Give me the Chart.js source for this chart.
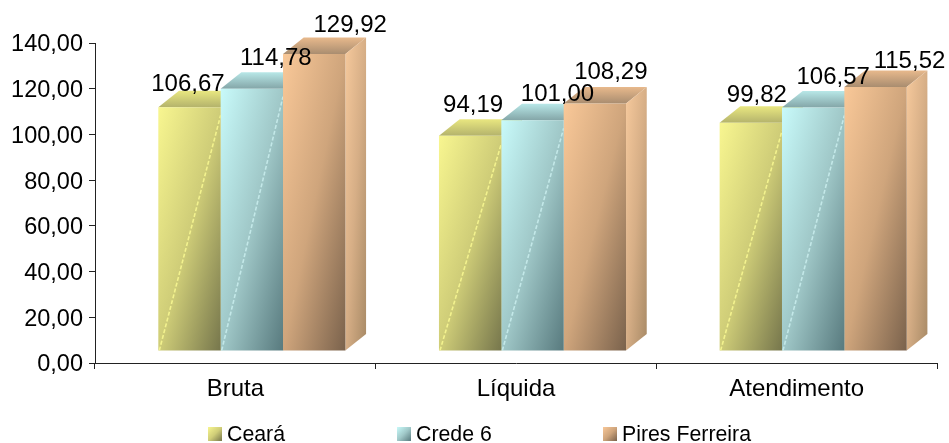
<!DOCTYPE html>
<html>
<head>
<meta charset="utf-8">
<script src="https://cdn.jsdelivr.net/npm/chart.js@4"></script>
<style>
  html, body { margin: 0; padding: 0; background: #fff; }
  #wrap { width: 949px; height: 443px; }
</style>
</head>
<body>
<div id="wrap"><canvas id="chart"></canvas></div>
<script>
// Values
const categories = ['Bruta', 'Líquida', 'Atendimento'];
const seriesNames = ['Ceará', 'Crede 6', 'Pires Ferreira'];
const ceara = [106.67, 94.19, 99.82];
const crede = [114.78, 101.00, 106.57];
const pires = [129.92, 108.29, 115.52];

const fontName = '"Liberation Sans", Arial, sans-serif';
const fmt = v => v.toFixed(2).replace('.', ',');

// The 3D look: front plane sits off the axes, depth goes up and to the right
const shiftX = 16.5, shiftY = -12;
const depthX = 20.7, depthY = 16.5;

// colours per series: bright, mid, dark of the front face
const shades = [
  { hi: '#f8f690', mid: '#cfcd78', lo: '#76764c', topBack: '#e9e780', topFront: '#b4b36c', sideHi: '#e8e684', sideMid: '#cfcd78', sideLo: '#a8a660', streak: 'rgba(255,255,150,0.75)' },
  { hi: '#c8fafa', mid: '#a0c8c8', lo: '#587a7e', topBack: '#b8e8e8', topFront: '#84a6a8', sideHi: '#b8e4e4', sideMid: '#9cc4c4', sideLo: '#7fa0a2', streak: 'rgba(215,250,250,0.65)' },
  { hi: '#f9c898', mid: '#cfa57c', lo: '#7a624c', topBack: '#e8b98c', topFront: '#a98d70', sideHi: '#f6c99c', sideMid: '#d6ae86', sideLo: '#a88a66' }
];

// data labels were moved by hand in the original, so each has its own nudge
const labelNudgeX = [[-1.5, 24, 36], [3, 25, 16], [6, 20, 34]];
const labelNudgeY = [[-16, -24, -22], [-24, -19, -24], [-21, -23, -19]];

// gradient running corner to corner so the other two corners land half way
function cornerGradient(c, x, y, w, h, stops) {
  const k = 2 * w * h / (h * h + w * w);
  const g = c.createLinearGradient(x, y, x + h * k, y + w * k);
  stops.forEach((s, i) => g.addColorStop(i / (stops.length - 1), s));
  return g;
}

function frontFill(context) {
  const chart = context.chart;
  const s = shades[context.datasetIndex];
  const xs = chart.scales.x, ys = chart.scales.y;
  if (!xs || !ys || context.dataIndex === undefined) return s.mid;
  const cat = xs.getPixelForValue(context.dataIndex);
  const w = xs.width / categories.length * 0.6665 / 3;
  const x = cat - 1.5 * w + context.datasetIndex * w;
  const top = ys.getPixelForValue(context.raw);
  const base = ys.getPixelForValue(0);
  if (![x, w, top, base].every(Number.isFinite) || !(base > top)) return s.mid;
  return cornerGradient(chart.ctx, x, top, w, base - top, [s.hi, s.mid, s.lo]);
}

const bar3d = {
  id: 'bar3d',
  beforeDatasetsDraw(chart) {
    const c = chart.ctx;
    c.save();
    c.translate(shiftX, shiftY);
    // tops and right sides go in first, the library's bars cover what is hidden
    chart.data.datasets.forEach((ds, i) => {
      chart.getDatasetMeta(i).data.forEach(el => {
        const s = shades[i];
        const l = el.x - el.width / 2, r = el.x + el.width / 2;
        const g = c.createLinearGradient(0, el.y - depthY, 0, el.y);
        g.addColorStop(0, s.topBack);
        g.addColorStop(1, s.topFront);
        c.fillStyle = g;
        c.beginPath();
        c.moveTo(l, el.y);
        c.lineTo(l + depthX, el.y - depthY);
        c.lineTo(r + depthX, el.y - depthY);
        c.lineTo(r, el.y);
        c.closePath();
        c.fill();

        c.fillStyle = cornerGradient(c, r, el.y - depthY, depthX, el.base - el.y + depthY,
          [s.sideHi, s.sideMid, s.sideLo]);
        c.beginPath();
        c.moveTo(r, el.y);
        c.lineTo(r + depthX, el.y - depthY);
        c.lineTo(r + depthX, el.base - depthY);
        c.lineTo(r, el.base);
        c.closePath();
        c.fill();
      });
    });
    // keep the translate on for the bars
  },
  afterDatasetsDraw(chart) {
    const c = chart.ctx;
    // pale diagonal streak on the yellow and blue faces
    chart.data.datasets.forEach((ds, i) => {
      if (!shades[i].streak) return;
      chart.getDatasetMeta(i).data.forEach(el => {
        const l = el.x - el.width / 2, r = el.x + el.width / 2;
        c.save();
        c.beginPath();
        c.rect(l, el.y, el.width, el.base - el.y);
        c.clip();
        c.strokeStyle = shades[i].streak;
        c.lineWidth = 1.6;
        c.setLineDash([4, 2]);
        c.beginPath();
        c.moveTo(l + 1, el.base);
        c.lineTo(r, el.y + 8);
        c.stroke();
        c.restore();
      });
    });
    c.restore();

    c.save();
    c.fillStyle = '#000';
    c.font = '24px ' + fontName;
    c.textAlign = 'center';
    c.textBaseline = 'alphabetic';
    chart.data.datasets.forEach((ds, i) => {
      chart.getDatasetMeta(i).data.forEach((el, j) => {
        c.fillText(fmt(ds.data[j]), el.x + shiftX + labelNudgeX[j][i], el.y + shiftY + labelNudgeY[j][i]);
      });
    });
    c.restore();
  },
  afterDraw(chart) {
    // legend, spaced as in the original
    const c = chart.ctx;
    const boxX = [208, 397, 603];
    c.save();
    c.font = '21.3px ' + fontName;
    c.textBaseline = 'alphabetic';
    c.textAlign = 'left';
    seriesNames.forEach((name, i) => {
      const s = shades[i];
      c.fillStyle = cornerGradient(c, boxX[i], 427, 14, 14, [s.hi, s.mid, s.lo]);
      c.fillRect(boxX[i], 427, 14, 14);
      c.fillStyle = '#000';
      c.fillText(name, boxX[i] + 19, 441);
    });
    c.restore();
  }
};

function makeDataset(name, values) {
  return {
    label: name,
    data: values,
    backgroundColor: frontFill,
    borderWidth: 0,
    clip: false,
    categoryPercentage: 0.6665,
    barPercentage: 1
  };
}

new Chart(document.getElementById('chart').getContext('2d'), {
  type: 'bar',
  data: {
    labels: categories,
    datasets: [
      makeDataset(seriesNames[0], ceara),
      makeDataset(seriesNames[1], crede),
      makeDataset(seriesNames[2], pires)
    ]
  },
  plugins: [bar3d],
  options: {
    responsive: true,
    maintainAspectRatio: false,
    animation: false,
    layout: { padding: { top: 43, right: 12, left: 0, bottom: 0 } },
    scales: {
      x: {
        afterFit(scale) { scale.height = 80; },
        grid: { drawOnChartArea: false, color: '#222', tickLength: 6, lineWidth: 1 },
        border: { color: '#222', width: 1 },
        ticks: { color: '#000', font: { family: fontName, size: 24 }, padding: 6 }
      },
      y: {
        min: 0,
        max: 140,
        afterFit(scale) { scale.width = 95; },
        grid: { drawOnChartArea: false, color: '#222', tickLength: 6, lineWidth: 1 },
        border: { color: '#222', width: 1 },
        ticks: {
          stepSize: 20,
          color: '#000',
          font: { family: fontName, size: 23.5 },
          padding: 6,
          labelOffset: 2,
          callback: v => fmt(v)
        }
      }
    },
    plugins: {
      legend: { display: false },
      tooltip: { enabled: false }
    }
  }
});
</script>
</body>
</html>
